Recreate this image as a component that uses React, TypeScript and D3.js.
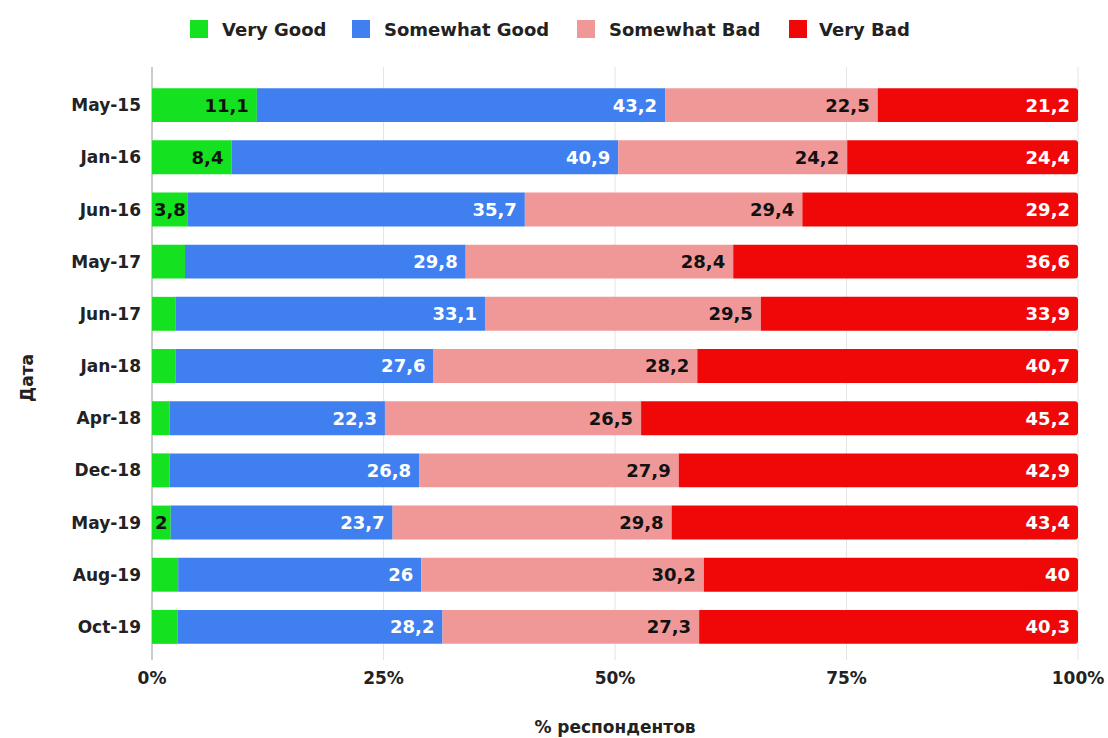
import React from "react";
import * as d3 from "d3";

const categories = ["May-15", "Jan-16", "Jun-16", "May-17", "Jun-17", "Jan-18", "Apr-18", "Dec-18", "May-19", "Aug-19", "Oct-19"];
const veryGood = [11.1, 8.4, 3.8, 3.5, 2.5, 2.5, 1.8, 1.9, 2, 2.8, 2.7];
const somewhatGood = [43.2, 40.9, 35.7, 29.8, 33.1, 27.6, 22.3, 26.8, 23.7, 26, 28.2];
const somewhatBad = [22.5, 24.2, 29.4, 28.4, 29.5, 28.2, 26.5, 27.9, 29.8, 30.2, 27.3];
const veryBad = [21.2, 24.4, 29.2, 36.6, 33.9, 40.7, 45.2, 42.9, 43.4, 40, 40.3];
const seriesNames = ["Very Good", "Somewhat Good", "Somewhat Bad", "Very Bad"];
const xTicks = [0, 0.25, 0.5, 0.75, 1];

const colors = ["#14e11f", "#3f7ff0", "#f09898", "#f00808"];
const labelColors = ["#111", "#fff", "#111", "#fff"];
const FONT = "'DejaVu Sans', sans-serif";
const VFS = 18;

function textW(s: string, fs: number) {
  let w = 0;
  for (const c of s) w += c === "," ? 0.38 : 0.696;
  return w * fs;
}

export default function App() {
  const W = 1108, H = 738;
  const x0 = 152, x1 = 1078;
  const series = [veryGood, somewhatGood, somewhatBad, veryBad];
  const x = d3.scaleLinear().domain([0, 1]).range([x0, x1]);
  const y = d3.scaleBand<string>().domain(categories).range([79, 653]).paddingInner(0.35).paddingOuter(0.175);

  const rows = categories.map((c, i) => {
    const vals = series.map((s) => s[i]);
    const total = d3.sum(vals);
    let acc = 0;
    return vals.map((v, k) => {
      const start = acc / total;
      acc += v;
      return { cat: c, k, v, start, end: acc / total };
    });
  });

  const legendItems = [
    { x: 190, tx: 222 },
    { x: 352, tx: 384 },
    { x: 577, tx: 609 },
    { x: 789, tx: 819 },
  ];

  const bh = y.bandwidth();
  const r = 3;

  return (
    <svg width={W} height={H} style={{ position: "absolute", left: 0, top: 0, background: "#fff" }} fontFamily={FONT}>
      {seriesNames.map((n, k) => (
        <g key={n}>
          <rect x={legendItems[k].x} y={20} width={18} height={18} fill={colors[k]} />
          <text x={legendItems[k].tx} y={36} fontSize={18} fontWeight="bold" fill="#222">{n}</text>
        </g>
      ))}
      {xTicks.map((t) => (
        <line key={t} x1={x(t)} x2={x(t)} y1={67} y2={660} stroke={t === 0 ? "#999" : "#e4e4e4"} strokeWidth={1} />
      ))}
      {rows.map((segs) =>
        segs.map((s) => {
          const sx = x(s.start), ex = x(s.end);
          const yy = y(s.cat)!;
          const w = ex - sx;
          const label = String(s.v).replace(".", ",");
          const tw = textW(label, VFS);
          const show = tw + 2 <= w;
          const pad = Math.min(8, (w - tw) / 2);
          const isLast = s.k === 3;
          const path = isLast
            ? `M${sx},${yy}H${ex - r}Q${ex},${yy} ${ex},${yy + r}V${yy + bh - r}Q${ex},${yy + bh} ${ex - r},${yy + bh}H${sx}Z`
            : `M${sx},${yy}H${ex}V${yy + bh}H${sx}Z`;
          return (
            <g key={s.cat + s.k}>
              <path d={path} fill={colors[s.k]} />
              {show && (
                <text x={ex - pad} y={yy + bh / 2} dy="0.36em" textAnchor="end" fontSize={VFS} fontWeight="bold" fill={labelColors[s.k]}>
                  {label}
                </text>
              )}
            </g>
          );
        })
      )}
      {categories.map((c) => (
        <text key={c} x={141} y={y(c)! + bh / 2} dy="0.36em" textAnchor="end" fontSize={17} fontWeight="bold" fill="#222">{c}</text>
      ))}
      {xTicks.map((t) => (
        <text key={t} x={x(t)} y={684} textAnchor="middle" fontSize={17} fontWeight="bold" fill="#222">{d3.format(".0%")(t)}</text>
      ))}
      <text x={(x0 + x1) / 2} y={733} textAnchor="middle" fontSize={17} fontWeight="bold" fill="#222">% респондентов</text>
      <text transform={`translate(33,378) rotate(-90)`} textAnchor="middle" fontSize={17} fontWeight="bold" fill="#222">Дата</text>
    </svg>
  );
}
